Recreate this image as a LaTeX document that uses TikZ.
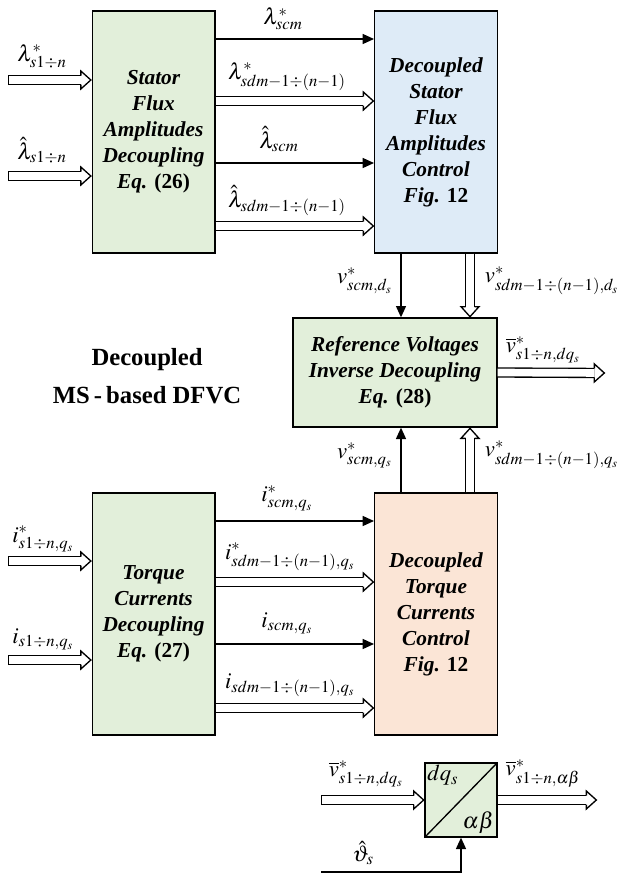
\documentclass[tikz,border=0pt]{standalone}
\usepackage{amsmath}
\usepackage{mathptmx}
\usepackage{fontspec}
\setmainfont{Liberation Serif}
\usetikzlibrary{arrows.meta}
\DeclareMathSizes{17}{17}{12.5}{9}
\definecolor{boxgreen}{RGB}{226,239,218}
\definecolor{boxblue}{RGB}{222,235,247}
\definecolor{boxorange}{RGB}{251,229,214}
% hollow head for the wide (vector) arrows
\pgfdeclarearrow{
  name = Hollow,
  setup code = {
    \pgfarrowssettipend{0.5pt}
    \pgfarrowssetlineend{-7.5pt}
    \pgfarrowssetvisualbackend{-7.5pt}
    \pgfarrowssetbackend{-7.5pt}
    \pgfarrowshullpoint{0.5pt}{0pt}
    \pgfarrowsupperhullpoint{-7.5pt}{6.75pt}
  },
  drawing code = {
    \pgfsetlinewidth{1pt}
    \pgfsetmiterjoin
    \pgfpathmoveto{\pgfqpoint{-7.5pt}{3.375pt}}
    \pgfpathlineto{\pgfqpoint{-7.5pt}{6.75pt}}
    \pgfpathlineto{\pgfqpoint{0pt}{0pt}}
    \pgfpathlineto{\pgfqpoint{-7.5pt}{-6.75pt}}
    \pgfpathlineto{\pgfqpoint{-7.5pt}{-3.375pt}}
    \pgfusepathqstroke
  }
}
% closed tail of the wide arrows
\pgfdeclarearrow{
  name = HollowCap,
  setup code = {
    \pgfarrowssettipend{0.5pt}
    \pgfarrowssetlineend{0pt}
    \pgfarrowssetvisualbackend{0pt}
    \pgfarrowssetbackend{0pt}
    \pgfarrowshullpoint{0.5pt}{3.9pt}
    \pgfarrowshullpoint{0.5pt}{-3.9pt}
  },
  drawing code = {
    \pgfsetlinewidth{1pt}
    \pgfpathmoveto{\pgfqpoint{0pt}{3.875pt}}
    \pgfpathlineto{\pgfqpoint{0pt}{-3.875pt}}
    \pgfusepathqstroke
  }
}

\begin{document}
\begin{tikzpicture}[x=0.75pt,y=0.75pt,yscale=-1,xscale=1,
  blk/.style={draw, line width=1pt, fill=boxgreen, align=center, inner sep=0pt, font=\fontsize{16}{19.5}\selectfont\bfseries\itshape},
  tall/.style={blk, minimum width=92pt, minimum height=181.5pt},
  lab/.style={inner sep=0.5pt, font=\fontsize{17}{19}\selectfont},
  sarr/.style={line width=1pt, -{Triangle[length=8.5pt,width=7.5pt]}},
  darr/.style={line width=1pt, double, double distance=5.75pt, -Hollow},
  dcap/.style={darr, HollowCap-Hollow}]
%set diagram left start at 0, and has height of 878
\path (0,0) rectangle (619,878);
%Shape: Rectangle
\node (fluxdec) [tall] at (153.5,132) {Stator\\Flux\\Amplitudes\\Decoupling\\Eq. \textup{(26)}};
%Shape: Rectangle
\node (fluxctrl) [tall, fill=boxblue] at (436,132) {Decoupled\\Stator\\Flux\\Amplitudes\\Control\\Fig. \textup{12}};
%Shape: Rectangle
\node (refvolt) [blk, minimum width=153pt, minimum height=81.75pt] at (395,372.5) {Reference Voltages\\Inverse Decoupling\\Eq. \textup{(28)}};
%Shape: Rectangle
\node (torqdec) [tall] at (153.5,614) {Torque\\Currents\\Decoupling\\Eq. \textup{(27)}};
%Shape: Rectangle
\node (torqctrl) [tall, fill=boxorange] at (436,614) {Decoupled\\Torque\\Currents\\Control\\Fig. \textup{12}};
%Shape: Square
\node (cvt) [draw, line width=1pt, fill=boxgreen, minimum width=54pt, minimum height=55.5pt, path picture={\draw [line width=1pt] (path picture bounding box.south west) -- (path picture bounding box.north east);}] at (461,800) {};

\coordinate (inlr) at (8,80);
\coordinate (inlh) at (8,176);
\coordinate (inir) at (8,561);
\coordinate (inim) at (8,660);
\coordinate (vout) at (605,373);
\coordinate (vin) at (321,800);
\coordinate (vab) at (597,800);
\coordinate (thin) at (321,872);

%Straight Lines
\draw [dcap] (inlr) -- (inlr -| fluxdec.west);
\draw [dcap] (inlh) -- (inlh -| fluxdec.west);
\draw [dcap] (inir) -- (inir -| torqdec.west);
\draw [dcap] (inim) -- (inim -| torqdec.west);
%Straight Lines
\draw [sarr] (fluxdec.east |- 0,39) -- (fluxctrl.west |- 0,39);
\draw [darr] (fluxdec.east |- 0,101) -- (fluxctrl.west |- 0,101);
\draw [sarr] (fluxdec.east |- 0,163) -- (fluxctrl.west |- 0,163);
\draw [darr] (fluxdec.east |- 0,226) -- (fluxctrl.west |- 0,226);
%Straight Lines
\draw [sarr] (torqdec.east |- 0,521) -- (torqctrl.west |- 0,521);
\draw [darr] (torqdec.east |- 0,582) -- (torqctrl.west |- 0,582);
\draw [sarr] (torqdec.east |- 0,644) -- (torqctrl.west |- 0,644);
\draw [darr] (torqdec.east |- 0,708) -- (torqctrl.west |- 0,708);
%Straight Lines
\draw [sarr] (fluxctrl.south -| 401,0) -- (refvolt.north -| 401,0);
\draw [darr] (fluxctrl.south -| 470,0) -- (refvolt.north -| 470,0);
\draw [sarr] (torqctrl.north -| 401,0) -- (refvolt.south -| 401,0);
\draw [darr] (torqctrl.north -| 470,0) -- (refvolt.south -| 470,0);
\draw [darr] (refvolt.east) -- (vout);
%Straight Lines
\draw [dcap] (vin) -- (cvt.west);
\draw [darr] (cvt.east) -- (vab);
\draw [sarr] (thin) -| (cvt.south);

% Text Node
\draw (42,70) node (tlr) [lab, anchor=south] {$\lambda^{*}_{s1\div n}$};
% Text Node
\draw (42,165) node (tlh) [lab, anchor=south] {$\hat{\lambda}_{s1\div n}$};
% Text Node
\draw (43,553) node (tir) [lab, anchor=south] {$i^{*}_{s1\div n,q_s}$};
% Text Node
\draw (43,651) node (tim) [lab, anchor=south] {$i_{s1\div n,q_s}$};
% Text Node
\draw (283,31) node (tlrc) [lab, anchor=south] {$\lambda^{*}_{scm}$};
% Text Node
\draw (287,92) node (tlrd) [lab, anchor=south] {$\lambda^{*}_{sdm-1\div(n-1)}$};
% Text Node
\draw (279,153) node (tlhc) [lab, anchor=south] {$\hat{\lambda}_{scm}$};
% Text Node
\draw (287,217) node (tlhd) [lab, anchor=south] {$\hat{\lambda}_{sdm-1\div(n-1)}$};
% Text Node
\draw (287,512) node (tirc) [lab, anchor=south] {$i^{*}_{scm,q_s}$};
% Text Node
\draw (290,572) node (tird) [lab, anchor=south] {$i^{*}_{sdm-1\div(n-1),q_s}$};
% Text Node
\draw (287,635) node (timc) [lab, anchor=south] {$i_{scm,q_s}$};
% Text Node
\draw (290,698) node (timd) [lab, anchor=south] {$i_{sdm-1\div(n-1),q_s}$};
% Text Node
\draw (393,281) node (tvdc) [lab, anchor=east] {$v^{*}_{scm,d_s}$};
% Text Node
\draw (484,281) node (tvdd) [lab, anchor=west] {$v^{*}_{sdm-1\div(n-1),d_s}$};
% Text Node
\draw (393,455) node (tvqc) [lab, anchor=east] {$v^{*}_{scm,q_s}$};
% Text Node
\draw (484,455) node (tvqd) [lab, anchor=west] {$v^{*}_{sdm-1\div(n-1),q_s}$};
% Text Node
\draw (543,364) node (tvout) [lab, anchor=south] {$\overline{v}^{*}_{s1\div n,dq_s}$};
% Text Node
\draw (366,788) node (tvin) [lab, anchor=south] {$\overline{v}^{*}_{s1\div n,dq_s}$};
% Text Node
\draw (543,788) node (tvab) [lab, anchor=south] {$\overline{v}^{*}_{s1\div n,\alpha\beta}$};
% Text Node
\draw (363,866) node (tth) [lab, anchor=south] {$\hat{\vartheta}_{s}$};
% Text Node
\draw (cvt.north west) node (cdq) [lab, anchor=north west, inner sep=2pt] {$dq_s$};
% Text Node
\draw (cvt.south east) node (cab) [lab, anchor=south east, inner sep=2.5pt] {$\alpha\beta$};
% Text Node
\draw (147,376) node (title) [align=center, font=\fontsize{18.5}{28.5}\selectfont\bfseries] {Decoupled\\MS\,-\,based DFVC};
\end{tikzpicture}
\end{document}
